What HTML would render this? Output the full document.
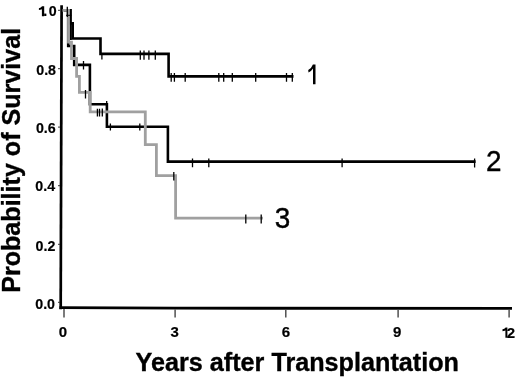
<!DOCTYPE html>
<html><head><meta charset="utf-8">
<style>
html,body{margin:0;padding:0;background:#fff;}
body{width:520px;height:377px;overflow:hidden;}
svg{display:block;will-change:transform;}
text{font-family:"Liberation Sans",sans-serif;}
</style></head>
<body>
<svg width="520" height="377" viewBox="0 0 520 377">
<rect width="520" height="377" fill="#fff"/>
<!-- axes -->
<line x1="61.6" y1="5.2" x2="60.7" y2="309.3" stroke="#000" stroke-width="2.7"/>
<path d="M59.4 307.6 L175 308.2 L512 308.45" fill="none" stroke="#000" stroke-width="2.8"/>
<!-- y ticks -->
<g stroke="#333" stroke-width="1">
<line x1="58" y1="10.3" x2="60" y2="10.3"/>
<line x1="58" y1="68.7" x2="60" y2="68.7"/>
<line x1="58" y1="127.1" x2="60" y2="127.1"/>
<line x1="58" y1="185.7" x2="60" y2="185.7"/>
<line x1="58" y1="244.3" x2="60" y2="244.3"/>
<line x1="58" y1="302.3" x2="60" y2="302.3"/>
</g>
<!-- x ticks -->
<g stroke="#444" stroke-width="1.4">
<line x1="64" y1="309" x2="64" y2="317.5"/>
<line x1="175.1" y1="309.5" x2="175.1" y2="317.5"/>
<line x1="285.8" y1="309.5" x2="285.8" y2="317.5"/>
<line x1="398.1" y1="309.5" x2="398.1" y2="317.5"/>
<line x1="509.1" y1="309.5" x2="509.1" y2="317.5"/>
</g>
<!-- y tick labels -->
<g font-weight="bold" font-size="15" text-anchor="end" fill="#000" stroke="#000" stroke-width="0.2">
<text transform="translate(56.7,16.3) scale(0.95,1)">0</text><text transform="translate(47.3,16.3) scale(0.95,1)">.</text>
<text transform="translate(56,74.8) scale(0.95,1)">0.8</text>
<text transform="translate(55.7,133.2) scale(0.95,1)">0.6</text>
<text transform="translate(55.1,191.2) scale(0.95,1)">0.4</text>
<text transform="translate(55.4,250.6) scale(0.95,1)">0.2</text>
<text transform="translate(55,308.8) scale(0.95,1)">0.0</text>
</g>
<!-- x tick labels -->
<g font-weight="bold" font-size="15" text-anchor="middle" fill="#000" stroke="#000" stroke-width="0.2">
<text x="63" y="337.3">0</text>
<text x="174.6" y="337.3">3</text>
<text x="285.9" y="337.3">6</text>
<text x="397.25" y="337.3">9</text>
<text x="515" y="337.8" text-anchor="end">2</text>
</g>
<!-- axis titles -->
<text x="135.6" y="371" font-weight="bold" font-size="25.2" fill="#000" stroke="#000" stroke-width="0.35">Years after Transplantation</text>
<text transform="translate(19.5,292.8) rotate(-90)" font-weight="bold" font-size="25.1" fill="#000" stroke="#000" stroke-width="0.35">Probability of Survival</text>
<!-- curve labels -->
<g font-size="30" fill="#000" stroke="#000" stroke-width="0.4">
<text transform="translate(486.1,170.6) scale(0.93,0.98)">2</text>
<text transform="translate(274.8,227.7) scale(0.93,0.98)">3</text>
</g>
<!-- custom "1" glyphs (no foot) -->
<g fill="#000">
<path d="M312.9 64.4 H315.5 V84.3 H313 V68.4 Q311.3 71.3 308.5 72.4 L308.2 69.9 Q311.5 68.3 312.9 64.4 Z"/>
<path d="M41.9 6.2 H44.2 V16.2 H41.9 Z M42 6.2 L44.2 6.2 L43.4 8.2 Q41.8 9.7 38.9 10.1 L38.9 8.2 Q41.2 7.8 42 6.2 Z"/>
<path d="M505.4 327.5 H507.4 V337.8 H505.4 Z M505.5 327.5 L507.4 327.5 L506.7 329.5 Q505 331 502.5 331.2 L502.5 329.3 Q504.7 329 505.5 327.5 Z"/>
</g>
<!-- curve 2 (black) -->
<path d="M64 10.3 H68.2 V46 H74.2 V64.9 H89.9 V104.3 H106.9 V126.7 H167.9 V161.6 H475.6" fill="none" stroke="#000" stroke-width="2.6"/>
<!-- curve 1 (black) -->
<path d="M64 10.3 H70.6 V23.4 H72.7 V38.5 H100.5 V53.85 H168.6 V76.4 H293.5" fill="none" stroke="#000" stroke-width="2.6"/>
<!-- curve 3 (gray) -->
<path d="M62.5 10.3 H68.5 V42.2 H71.5 V58.5 H76.6 V76.4 H79.4 V92.4 H90.2 V111.9 H145.3 V144.6 H156.4 V175.7 H175.6 V218.1 H263" fill="none" stroke="#a0a0a0" stroke-width="2.8"/>
<!-- censor ticks -->
<g stroke="#000" stroke-width="1.3">
<!-- curve 1 -->
<path d="M67.3 6.8 V17"/><path d="M66 15.3 H71.5" stroke-width="1"/><path d="M70.9 23 V40" stroke-width="1.8"/>
<path d="M101.9 53 V59.4 M140.3 50.4 V59.7 M144 50.4 V59.7 M148.9 50.4 V59.7 M155.3 50.4 V59.7"/>
<path d="M171.2 73 V81.8 M174.4 73 V81.8 M185.2 73 V81.8 M218.8 73 V81.8 M223.7 73 V81.8 M232.3 73 V81.8 M255.7 73 V81.8 M286.5 73 V81.8 M292.3 73 V81.8"/>
<!-- curve 2 -->
<path d="M83.5 61 V69.6 M106.7 101 V108 M110.4 123.4 V130.6 M139.8 123.4 V130.6"/>
<path d="M192.5 158.5 V167.2 M208.8 158.5 V167.2 M342.1 158.5 V167.2 M474.6 158.5 V167.6"/>
<!-- curve 3 -->
<path d="M85.5 89.9 V98.4 M97.4 108.7 V116.6 M99.5 108.7 V116.6 M102.3 108.5 V116.6 M173.8 172 V180.6 M245.8 214.6 V223.5 M261.2 214.6 V223.5"/>
</g>
</svg>
</body></html>
